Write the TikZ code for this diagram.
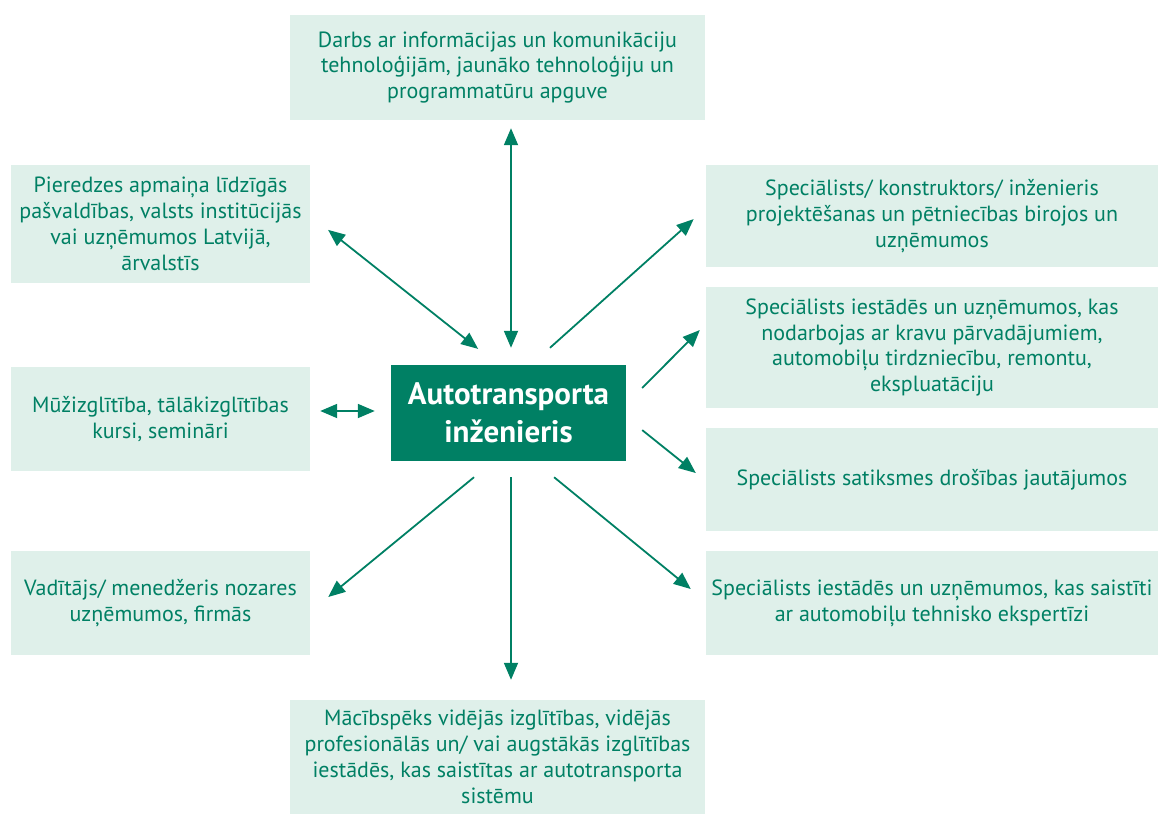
\documentclass[tikz,border=0pt]{standalone}
\usepackage{fontspec}
\setmainfont{PT Sans}
\usetikzlibrary{arrows.meta}
\definecolor{zals}{RGB}{0,128,100}
\definecolor{gaiss}{RGB}{223,240,234}

\begin{document}
\begin{tikzpicture}[x=1pt, y=-1pt,
  kaste/.style={fill=gaiss, text=zals, align=center, inner sep=0pt,
    font=\fontsize{22}{25.8}\selectfont},
  bulta/.style={draw=zals, line width=1.8pt, -{Triangle[length=17pt,width=14pt]}},
  abas/.style={draw=zals, line width=1.8pt, {Triangle[length=17pt,width=14pt]}-{Triangle[length=17pt,width=14pt]}}]

  \useasboundingbox (0,0) rectangle (1158,814);

  % centrs
  \node[fill=zals, text=white, align=center, minimum width=235pt, minimum height=96pt,
    font=\fontsize{31}{38}\selectfont\bfseries] (c) at (508.5,413)
    {Autotransporta\\inženieris};

  % kreisa puse
  \node[kaste, minimum width=415pt, minimum height=105pt] (info) at (497.5,67.5)
    {Darbs ar informācijas un komunikāciju\\tehnoloģijām, jaunāko tehnoloģiju un\\programmatūru apguve};
  \node[kaste, minimum width=299pt, minimum height=118pt] (pier) at (160.5,224)
    {Pieredzes apmaiņa līdzīgās\\pašvaldības, valsts institūcijās\\vai uzņēmumos Latvijā,\\ārvalstīs};
  \node[kaste, minimum width=299pt, minimum height=104pt] (muz) at (160.5,419)
    {Mūžizglītība, tālākizglītības\\kursi, semināri};
  \node[kaste, minimum width=299pt, minimum height=104pt] (vad) at (160.5,603)
    {Vadītājs/ menedžeris nozares\\uzņēmumos, firmās};
  \node[kaste, minimum width=415pt, minimum height=114pt] (mac) at (497.5,757)
    {Mācībspēks vidējās izglītības, vidējās\\profesionālās un/ vai augstākās izglītības\\iestādēs, kas saistītas ar autotransporta\\sistēmu};

  % laba puse
  \node[kaste, minimum width=452pt, minimum height=102pt] (kon) at (932,216)
    {Speciālists/ konstruktors/ inženieris\\projektēšanas un pētniecības birojos un\\uzņēmumos};
  \node[kaste, minimum width=452pt, minimum height=121pt] (krav) at (932,347.5)
    {Speciālists iestādēs un uzņēmumos, kas\\nodarbojas ar kravu pārvadājumiem,\\automobiļu tirdzniecību, remontu,\\ekspluatāciju};
  \node[kaste, minimum width=452pt, minimum height=103pt] (dros) at (932,479.5)
    {Speciālists satiksmes drošības jautājumos};
  \node[kaste, minimum width=452pt, minimum height=104pt] (eksp) at (932,603)
    {Speciālists iestādēs un uzņēmumos, kas saistīti\\ar automobiļu tehnisko ekspertīzi};

  \draw[abas, shorten <=17pt, shorten >=8pt] ([xshift=2.5pt]c.north) -- ([xshift=13.5pt]info.south); % c<->info
  \draw[abas, shorten <=25.6pt, shorten >=22.8pt] ([xshift=-10.3pt]c.north) -- ([yshift=8.3pt]pier.east); % c<->pier
  \draw[abas, shorten <=16pt, shorten >=10pt] ([yshift=2pt]c.west) -- ([yshift=8pt]muz.east); % c<->muz
  \draw[bulta, shorten <=25.2pt, shorten >=23.3pt] ([xshift=-15pt]c.south) -- ([yshift=-8.8pt]vad.east); % c->vad
  \draw[bulta, shorten <=16pt, shorten >=20pt] ([xshift=2.5pt]c.south) -- ([xshift=13.5pt]mac.north); % c->mac

  \draw[bulta, shorten <=25.5pt, shorten >=16.3pt] ([xshift=22.5pt]c.north) -- ([yshift=7.75pt]kon.west); % c->kon
  \draw[bulta, shorten <=22.6pt, shorten >=8.5pt] ([yshift=9pt]c.east) -- ([yshift=23.5pt]krav.west); % c->krav
  \draw[bulta, shorten <=20.5pt, shorten >=12.8pt] ([yshift=-4.3pt]c.east) -- ([yshift=-1.5pt]dros.west); % c->dros
  \draw[bulta, shorten <=25.3pt, shorten >=19.4pt] ([xshift=26pt]c.south) -- ([yshift=1.7pt]eksp.west); % c->eksp

\end{tikzpicture}
\end{document}
